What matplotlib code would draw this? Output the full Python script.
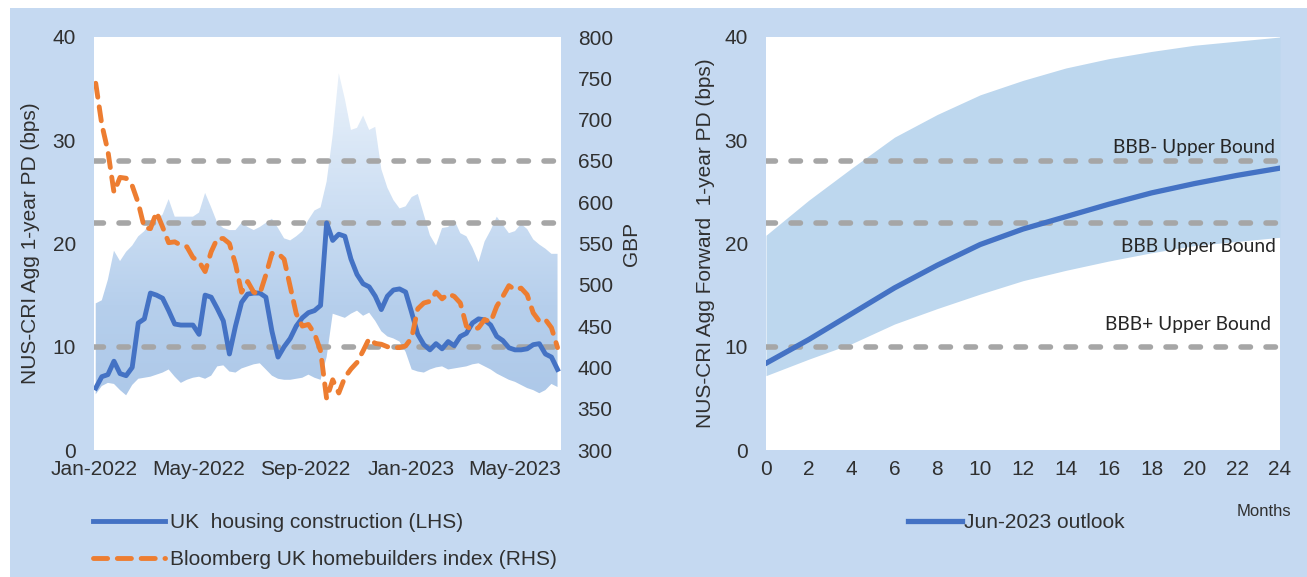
import matplotlib
matplotlib.use('Agg')
import matplotlib.pyplot as plt
import matplotlib.dates as mdates
from matplotlib.colors import LinearSegmentedColormap
from matplotlib.patches import Rectangle
from matplotlib.lines import Line2D
import numpy as np
import pandas as pd

plt.rcParams['font.family'] = ['Liberation Sans', 'DejaVu Sans']

BG = '#c5d9f1'
BLUE = '#4472c4'
ORANGE = '#ed7d31'
GREY = '#a6a6a6'
TXT = '#303030'

# ---- left panel data (weekly readings) ----
weeks = pd.date_range('2022-01-03', periods=77, freq='7D')

housing_pd = [6.0, 7.1, 7.3, 8.6, 7.4, 7.2, 8.0, 12.3, 12.7, 15.2,
              15.0, 14.7, 13.5, 12.2, 12.1, 12.1, 12.1, 11.2, 15.0, 14.8,
              13.7, 12.5, 9.3, 12.0, 14.3, 15.1, 15.2, 15.2, 14.8, 11.5,
              9.0, 10.0, 10.8, 12.0, 12.8, 13.3, 13.5, 14.0, 22.0, 20.3,
              20.9, 20.7, 18.5, 17.0, 16.1, 15.8, 14.9, 13.6, 14.9, 15.5,
              15.6, 15.3, 13.3, 11.2, 10.2, 9.7, 10.3, 9.8, 10.5, 10.1,
              11.0, 11.3, 12.3, 12.7, 12.6, 12.1, 11.0, 10.6, 9.9, 9.7,
              9.7, 9.8, 10.2, 10.3, 9.3, 9.0, 7.8]

housing_hi = [14.2, 14.5, 16.5, 19.3, 18.3, 19.2, 19.8, 20.7, 21.2, 22.0,
              22.3, 22.8, 24.3, 22.6, 22.6, 22.6, 22.6, 23.0, 24.9, 23.5,
              22.0, 21.5, 21.3, 21.3, 22.0, 21.6, 21.3, 21.6, 22.0, 22.4,
              21.5, 20.5, 20.3, 20.7, 21.2, 22.3, 23.2, 23.5, 26.0, 30.5,
              36.5, 34.0, 31.0, 31.2, 32.4, 31.0, 31.3, 27.2, 25.4, 24.2,
              23.4, 23.6, 24.5, 24.8, 22.8, 20.8, 19.8, 21.5, 21.6, 22.3,
              21.0, 20.7, 19.6, 18.2, 20.2, 21.3, 22.6, 21.8, 21.0, 21.2,
              21.9, 21.4, 20.4, 19.9, 19.5, 19.0, 19.0]

housing_lo = [5.4, 6.2, 6.5, 6.4, 5.8, 5.3, 6.3, 6.9, 7.0, 7.1,
              7.3, 7.5, 7.8, 7.1, 6.5, 6.8, 7.0, 7.1, 6.9, 7.2,
              8.1, 8.2, 7.6, 7.5, 7.9, 8.1, 8.3, 8.4, 7.8, 7.2,
              6.9, 6.8, 6.8, 6.9, 7.0, 7.3, 7.0, 6.8, 9.0, 13.2,
              13.0, 12.8, 13.2, 13.5, 13.0, 13.3, 12.5, 11.5, 11.0, 10.8,
              10.5, 9.5, 7.8, 7.6, 7.5, 7.8, 8.0, 8.1, 7.8, 7.9,
              8.0, 8.1, 8.3, 8.4, 8.1, 7.8, 7.4, 7.1, 6.8, 6.6,
              6.3, 6.0, 5.8, 5.5, 5.8, 6.4, 6.1]

homebuilders_gbp = [744, 694, 662, 612, 630, 629, 620, 599, 569, 568,
                    588, 570, 551, 552, 548, 546, 533, 528, 516, 540,
                    556, 556, 550, 525, 491, 504, 491, 489, 512, 538,
                    538, 531, 498, 465, 450, 452, 441, 420, 362, 385,
                    369, 388, 398, 406, 420, 435, 429, 428, 425, 424,
                    424, 426, 436, 471, 478, 480, 491, 483, 489, 486,
                    478, 450, 445, 448, 458, 455, 474, 486, 499, 494,
                    496, 488, 466, 456, 458, 448, 424]

date_ticks = ['2022-01-01', '2022-05-01', '2022-09-01', '2023-01-01', '2023-05-01']

bound_levels = [10, 22, 28]
bound_labels = ['BBB+ Upper Bound', 'BBB Upper Bound', 'BBB- Upper Bound']

# ---- right panel data ----
months = [0, 2, 4, 6, 8, 10, 12, 14, 16, 18, 20, 22, 24]
outlook = [8.4, 10.7, 13.2, 15.7, 17.9, 19.9, 21.4, 22.6, 23.8, 24.9, 25.8, 26.6, 27.3]
outlook_hi = [20.8, 24.2, 27.3, 30.3, 32.5, 34.4, 35.8, 37.0, 37.9, 38.6, 39.2, 39.6, 40.0]
outlook_lo = [7.2, 8.8, 10.3, 12.2, 13.7, 15.1, 16.4, 17.4, 18.3, 19.1, 19.8, 20.2, 20.6]

W, H = 1307, 577
fig = plt.figure(figsize=(W / 100, H / 100), dpi=100)
fig.patch.set_facecolor('white')
fig.add_artist(Rectangle((10 / W, 0), 1, 1 - 8 / H, transform=fig.transFigure,
                         facecolor=BG, edgecolor='none', zorder=-10))


def style(ax):
    for s in ax.spines.values():
        s.set_visible(False)
    ax.tick_params(length=0, labelsize=15, colors=TXT)


# ================= left panel =================
ax1 = fig.add_axes([94 / W, 1 - 450 / H, 467 / W, 413 / H])
ax1.set_facecolor('white')
style(ax1)
ax1.tick_params(axis='y', pad=13)
ax1.tick_params(axis='x', pad=7)

xmin, xmax = pd.Timestamp('2022-01-01'), pd.Timestamp('2023-06-23')

band = ax1.fill_between(weeks, housing_lo, housing_hi, facecolor='none', edgecolor='none')
band_cmap = LinearSegmentedColormap.from_list(
    'band', [(0, '#a9c5e7'), (0.35, '#b6cfec'), (0.55, '#c9dcf2'), (0.85, '#e4eef9'), (1, '#eef4fb')])
grad = np.linspace(0, 1, 256).reshape(-1, 1)
img = ax1.imshow(grad, extent=[mdates.date2num(xmin), mdates.date2num(xmax), 0, 40],
                 origin='lower', aspect='auto', cmap=band_cmap, zorder=1)
img.set_clip_path(band.get_paths()[0], ax1.transData)

for lv in bound_levels:
    ax1.axhline(lv, color=GREY, lw=4, dashes=(1.7, 2.8), dash_capstyle='round', zorder=2)

ax1.plot(weeks, housing_pd, color=BLUE, lw=3.5, zorder=3, solid_joinstyle='round')

ax1.set_xlim(xmin, xmax)
ax1.set_ylim(0, 40)
ax1.set_yticks([0, 10, 20, 30, 40])
ax1.set_xticks([pd.Timestamp(d) for d in date_ticks])
ax1.xaxis.set_major_formatter(mdates.DateFormatter('%b-%Y'))
ax1.set_ylabel('NUS-CRI Agg 1-year PD (bps)', fontsize=15, color=TXT)
ax1.yaxis.label.set_va('center')
ax1.yaxis.set_label_coords(-0.135, 0.5)

ax2 = ax1.twinx()
style(ax2)
ax2.tick_params(axis='y', pad=12)
ax2.plot(weeks, homebuilders_gbp, color=ORANGE, lw=3.5, dashes=(2.9, 2.0),
         dash_capstyle='round', zorder=4)
ax2.set_ylim(300, 800)
ax2.set_yticks(range(300, 801, 50))
ax2.set_ylabel('GBP', fontsize=15, color=TXT)
ax2.yaxis.label.set_va('center')
ax2.yaxis.set_label_coords(1.152, 0.5)

fig.legend(handles=[Line2D([], [], color=BLUE, lw=3.5),
                    Line2D([], [], color=ORANGE, lw=3.5, dashes=(2.9, 2.0), dash_capstyle='round')],
           labels=['UK  housing construction (LHS)', 'Bloomberg UK homebuilders index (RHS)'],
           loc='upper left', bbox_to_anchor=(93 / W, 1 - 513 / H), frameon=False,
           fontsize=15, handlelength=3.46, handletextpad=0.25, labelspacing=0.86,
           borderpad=0, borderaxespad=0, labelcolor=TXT)

# ================= right panel =================
ax3 = fig.add_axes([766 / W, 1 - 450 / H, 514 / W, 413 / H])
ax3.set_facecolor('white')
style(ax3)
ax3.tick_params(axis='y', pad=13)
ax3.tick_params(axis='x', pad=7)

ax3.fill_between(months, outlook_lo, outlook_hi, color='#bdd7ee', lw=0, zorder=1)
for lv in bound_levels:
    ax3.axhline(lv, color=GREY, lw=4, dashes=(1.7, 2.8), dash_capstyle='round', zorder=2)
ax3.plot(months, outlook, color=BLUE, lw=3.8, zorder=3)

label_pos = [(23.6, 12.2), (23.8, 19.7), (23.77, 29.25)]
for (lx, ly), txt in zip(label_pos, bound_labels):
    ax3.text(lx, ly, txt, ha='right', va='center', fontsize=13.8, color='#262626',
             family=['Lato', 'DejaVu Sans'])

ax3.set_xlim(0, 24)
ax3.set_ylim(0, 40)
ax3.set_xticks(months)
ax3.set_yticks([0, 10, 20, 30, 40])
ax3.set_ylabel('NUS-CRI Agg Forward  1-year PD (bps)', fontsize=15, color=TXT)
ax3.yaxis.label.set_va('center')
ax3.yaxis.set_label_coords(-0.117, 0.5)

fig.text(1291 / W, 1 - 511 / H, 'Months', ha='right', va='center', fontsize=12, color=TXT)

fig.legend(handles=[Line2D([], [], color=BLUE, lw=3.8)], labels=['Jun-2023 outlook'],
           loc='upper left', bbox_to_anchor=(908 / W, 1 - 513 / H), frameon=False,
           fontsize=15, handlelength=2.6, handletextpad=0.1, borderpad=0,
           borderaxespad=0, labelcolor=TXT)

fig.savefig('out.png', dpi=100, facecolor=fig.get_facecolor())
